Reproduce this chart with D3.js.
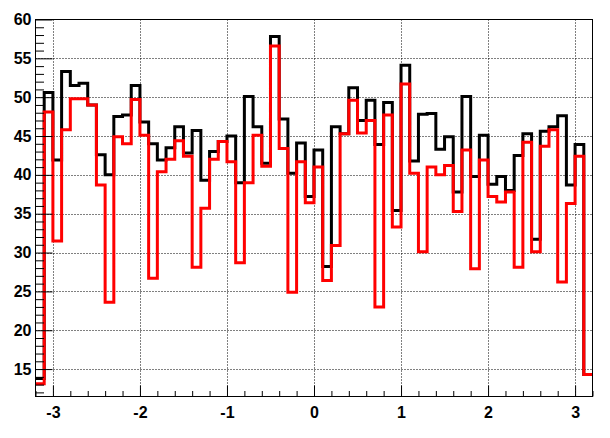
<!DOCTYPE html>
<html><head><meta charset="utf-8">
<script src="https://cdn.jsdelivr.net/npm/d3@7"></script>
<style>html,body{margin:0;padding:0;background:#fff;}svg{display:block;}</style>
</head><body>
<svg id="c" width="610" height="438"></svg>
<script>
const binEdgesRange = [-3.2, 3.2];
const nBins = 64;
const blackValues = [13.8,50.6,41.9,53.3,51.5,51.8,49.0,42.6,40.0,47.5,47.7,51.5,46.8,44.0,41.9,43.5,
  46.2,42.8,45.7,39.3,43.0,44.3,45.0,39.0,50.1,46.2,41.5,57.8,47.2,40.2,44.1,37.2,
  43.2,28.2,46.2,45.3,51.2,47.0,49.6,43.9,49.3,35.4,54.1,41.8,47.8,47.9,43.3,44.9,
  37.8,50.1,39.8,45.1,38.8,39.8,38.0,42.5,45.3,31.7,45.6,46.2,47.6,38.7,43.9,14.3];
const redValues = [13.1,48.1,31.5,45.8,49.8,49.8,49.0,38.7,23.6,44.9,44.0,49.7,45.1,26.7,40.4,42.0,
  44.4,42.4,28.1,35.7,42.0,44.3,41.7,28.7,39.0,45.1,41.1,56.6,43.4,24.9,41.7,36.4,
  41.0,26.4,30.9,45.3,49.6,45.4,47.0,23.0,47.7,33.3,51.7,40.2,30.1,41.0,40.0,41.2,
  35.3,43.2,27.9,41.9,37.2,36.5,37.8,28.1,44.2,30.1,43.7,45.8,26.2,36.3,42.4,14.3];
const xMajorTicks = [-3,-2,-1,0,1,2,3];
const yMajorTicks = [15,20,25,30,35,40,45,50,55,60];

const svg = d3.select('#c');
const L = 35.5, R = 592.5, T = 19.5, B = 396.5;
const x = d3.scaleLinear().domain(binEdgesRange).range([L, R]);
const y = d3.scaleLinear().domain([11.47, 60]).range([B, T]);
const bw = (binEdgesRange[1]-binEdgesRange[0])/nBins;
const fmt = d => String(d);

// grid
const g = svg.append('g');
xMajorTicks.forEach(t => {
  g.append('line').attr('x1', Math.round(x(t))+0.5).attr('x2', Math.round(x(t))+0.5)
   .attr('y1', T).attr('y2', B).attr('stroke','#000').attr('stroke-width',1).attr('stroke-dasharray','1,2');
});
yMajorTicks.filter(t=>t<60).forEach(t => {
  g.append('line').attr('x1', L).attr('x2', R).attr('y1', Math.round(y(t))+0.5).attr('y2', Math.round(y(t))+0.5)
   .attr('stroke','#000').attr('stroke-width',1).attr('stroke-dasharray','1,2');
});

function histPath(vals){
  const pts = vals.map((v,i)=>[binEdgesRange[0]+i*bw, v]);
  pts.push([binEdgesRange[1], vals[vals.length-1]]);
  return d3.line().x(d=>x(d[0])).y(d=>y(d[1])).curve(d3.curveStepAfter)(pts);
}
svg.append('path').attr('d', histPath(blackValues)).attr('fill','none').attr('stroke','#000').attr('stroke-width',3).attr('stroke-linejoin','miter');
svg.append('path').attr('d', histPath(redValues)).attr('fill','none').attr('stroke','#ff0000').attr('stroke-width',3).attr('stroke-linejoin','miter');

// frame
svg.append('rect').attr('x', L).attr('y', T).attr('width', R-L).attr('height', B-T)
  .attr('fill','none').attr('stroke','#000').attr('stroke-width',1);

// y axis
svg.append('g').attr('transform',`translate(${L},0)`)
  .call(d3.axisLeft(y).tickValues(yMajorTicks).tickSize(-17).tickPadding(4).tickFormat(fmt));
const yMinor = d3.range(12, 60, 1).filter(v=>v%5!==0);
svg.append('g').attr('transform',`translate(${L},0)`)
  .call(d3.axisLeft(y).tickValues(yMinor).tickSize(-8.5).tickFormat(''));
// x axis
svg.append('g').attr('transform',`translate(0,${B})`)
  .call(d3.axisBottom(x).tickValues(xMajorTicks).tickSize(-11).tickPadding(10).tickFormat(fmt));
const xMinor = d3.range(-16, 17).map(i=>i*0.2).filter(v=>Math.abs(v-Math.round(v))>1e-6);
svg.append('g').attr('transform',`translate(0,${B})`)
  .call(d3.axisBottom(x).tickValues(xMinor).tickSize(-5.5).tickFormat(''));

svg.selectAll('.domain').remove();
svg.selectAll('.tick line').attr('stroke','#000').attr('stroke-width',1);
svg.selectAll('.tick text').attr('fill','#000')
  .style('font-family','"Liberation Sans", Arial, Helvetica, sans-serif')
  .style('font-weight','bold').style('font-size','16px');
</script>
</body></html>
